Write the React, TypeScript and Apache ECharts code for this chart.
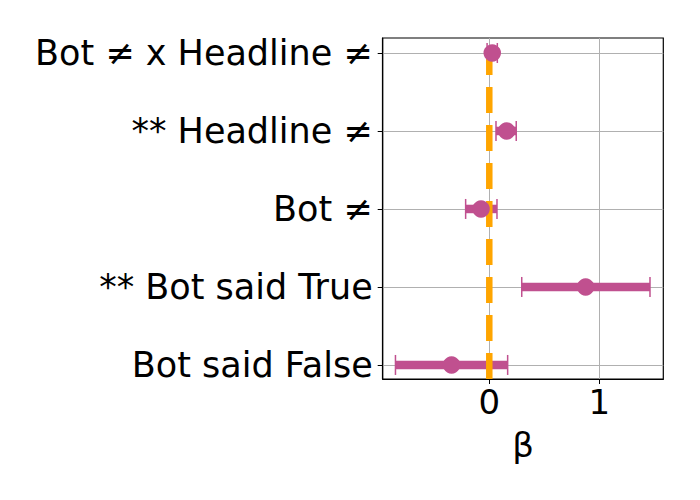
import { useEffect, useRef } from 'react';
import * as echarts from 'echarts';

// rows top to bottom
const categories = ['Bot ≠ x Headline ≠', '** Headline ≠', 'Bot ≠', '** Bot said True', 'Bot said False'];
const estimates = [0.027, 0.158, -0.075, 0.876, -0.343];
const lower = [-0.02, 0.061, -0.215, 0.295, -0.853];
const upper = [0.073, 0.245, 0.07, 1.461, 0.167];
const xTicks = [0, 1];
const yTicks = [0, 1, 2, 3, 4];

const X_MIN = -0.969;
const X_MAX = 1.582;
const Y_MIN = -0.192;
const Y_MAX = 4.18;

const PINK = '#c0508f';
const ORANGE = '#ffa500';
const FONT = 'DejaVu Sans';

export default function App() {
  const chartRef = useRef<HTMLDivElement>(null);

  useEffect(() => {
    if (!chartRef.current) return;
    const chart = echarts.init(chartRef.current, undefined, { renderer: 'svg' });

    chart.setOption({
      animation: false,
      grid: {
        left: 382.7,
        right: 36.7,
        top: 38,
        bottom: 121,
        show: true,
        borderColor: '#000',
        borderWidth: 1.2,
      },
      xAxis: {
        type: 'value',
        min: X_MIN,
        max: X_MAX,
        name: 'β',
        nameLocation: 'middle',
        nameGap: 49,
        nameTextStyle: { fontFamily: FONT, fontSize: 34, color: '#000' },
        axisLine: { show: true, onZero: false, lineStyle: { color: '#000', width: 1.2 } },
        axisTick: { show: true, customValues: xTicks, length: 5, lineStyle: { color: '#000' } },
        axisLabel: {
          customValues: xTicks,
          margin: 6,
          fontFamily: FONT,
          fontSize: 34,
          color: '#000',
        },
        splitLine: { show: true, lineStyle: { color: '#b0b0b0', width: 1 } },
      },
      yAxis: {
        type: 'value',
        inverse: true,
        min: Y_MIN,
        max: Y_MAX,
        axisLine: { show: true, onZero: false, lineStyle: { color: '#000', width: 1.2 } },
        axisTick: { show: true, customValues: yTicks, length: 5, lineStyle: { color: '#000' } },
        axisLabel: {
          customValues: yTicks,
          margin: 10,
          fontFamily: FONT,
          fontSize: 35,
          color: '#000',
          formatter: (v: number) => categories[Math.round(v)] ?? '',
        },
        splitLine: { show: true, lineStyle: { color: '#b0b0b0', width: 1 } },
      },
      series: [
        {
          type: 'custom',
          z: 1,
          clip: false,
          data: categories.map((_, i) => [lower[i], upper[i], i]),
          renderItem: (_params: any, api: any) => {
            const lo = api.coord([api.value(0), api.value(2)]);
            const hi = api.coord([api.value(1), api.value(2)]);
            const capH = 10;
            return {
              type: 'group',
              children: [
                {
                  type: 'line',
                  shape: { x1: lo[0], y1: lo[1], x2: hi[0], y2: hi[1] },
                  style: { stroke: PINK, lineWidth: 8.5 },
                },
                {
                  type: 'line',
                  shape: { x1: lo[0], y1: lo[1] - capH, x2: lo[0], y2: lo[1] + capH },
                  style: { stroke: PINK, lineWidth: 1.5 },
                },
                {
                  type: 'line',
                  shape: { x1: hi[0], y1: hi[1] - capH, x2: hi[0], y2: hi[1] + capH },
                  style: { stroke: PINK, lineWidth: 1.5 },
                },
              ],
            };
          },
        },
        {
          type: 'line',
          z: 2,
          symbol: 'none',
          data: [
            [0, Y_MAX],
            [0, Y_MIN],
          ],
          lineStyle: { color: ORANGE, width: 6.5, type: [26, 12] },
        },
        {
          type: 'scatter',
          z: 3,
          symbol: 'circle',
          symbolSize: 17.5,
          data: categories.map((_, i) => [estimates[i], i]),
          itemStyle: { color: PINK, opacity: 1 },
        },
      ],
    });

    return () => {
      chart.dispose();
    };
  }, []);

  return <div ref={chartRef} style={{ width: 700, height: 500, margin: -8 }} />;
}
